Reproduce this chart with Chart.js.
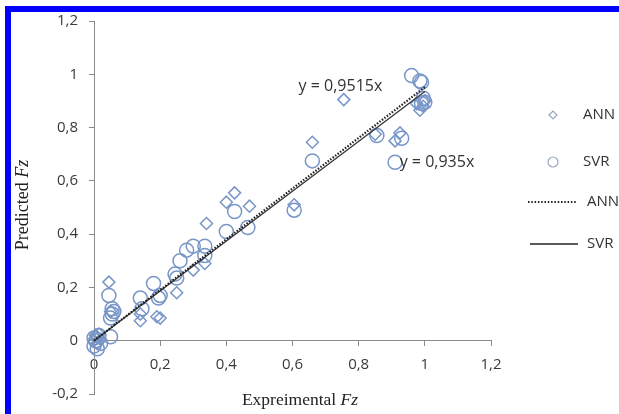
<!DOCTYPE html>
<html lang="en">
<head>
  <meta charset="UTF-8">
  <title>Predicted vs Expreimental Fz</title>
  <script src="https://cdn.jsdelivr.net/npm/chart.js"></script>
  <style>
    html, body { margin: 0; padding: 0; background: #fff; }
    #wrap { position: relative; width: 619px; height: 414px; }
  </style>
</head>
<body>
  <div id="wrap"><canvas id="fzChart" width="619" height="414"></canvas></div>

  <script>
    // ANN predictions (diamonds)
    const annX = [0.0, 0.005, 0.01, 0.015, 0.02, 0.01, 0.045, 0.05, 0.14, 0.14, 0.19, 0.2,
                  0.25, 0.3, 0.335, 0.34, 0.40, 0.425, 0.47, 0.605, 0.66, 0.755,
                  0.85, 0.91, 0.925, 0.975, 0.985, 0.995, 1.0];
    const annY = [0.0, 0.02, 0.01, 0.025, 0.005, -0.01, 0.22, 0.11, 0.1, 0.075, 0.09, 0.085,
                  0.18, 0.265, 0.29, 0.44, 0.52, 0.555, 0.505, 0.51, 0.745, 0.905,
                  0.775, 0.75, 0.78, 0.89, 0.865, 0.88, 0.9];

    // SVR predictions (circles)
    const svrX = [0.0, 0.01, 0.02, 0.0, 0.015, 0.005, 0.045, 0.055, 0.055, 0.05, 0.06, 0.05,
                  0.14, 0.145, 0.18, 0.195, 0.2, 0.25, 0.245, 0.26, 0.28, 0.3, 0.335, 0.335,
                  0.4, 0.425, 0.465, 0.605, 0.66, 0.855, 0.91, 0.93,
                  0.96, 0.985, 0.99, 0.99, 1.0, 0.995];
    const svrY = [-0.02, -0.03, -0.01, 0.01, 0.02, 0.0, 0.17, 0.12, 0.1, 0.085, 0.11, 0.015,
                  0.16, 0.12, 0.215, 0.16, 0.17, 0.235, 0.25, 0.3, 0.34, 0.355, 0.355, 0.32,
                  0.41, 0.485, 0.425, 0.49, 0.675, 0.77, 0.67, 0.76,
                  0.995, 0.975, 0.97, 0.89, 0.895, 0.91];

    // linear trend lines through origin
    const trendX = [0, 1];
    const annTrendY = [0, 0.9515];
    const svrTrendY = [0, 0.935];
    const annEq = 'y = 0,9515x';
    const svrEq = 'y = 0,935x';

    const xTicks = [0, 0.2, 0.4, 0.6, 0.8, 1, 1.2];
    const yTicks = [-0.2, 0, 0.2, 0.4, 0.6, 0.8, 1, 1.2];

    const markColor = '#7896c8';
    const tickFont = { family: 'Open Sans', size: 15 };
    const tickColor = '#3a3a3a';
    const axisColor = '#8a8a8a';

    const pts = (xs, ys) => xs.map((x, i) => ({ x, y: ys[i] }));
    const fmt = v => String(v).replace('.', ',');

    function drawTitle(ctx, parts, cx, cy, rot) {
      ctx.save();
      ctx.translate(cx, cy);
      ctx.rotate(rot);
      let w = 0;
      parts.forEach(p => { ctx.font = p.font; w += ctx.measureText(p.text).width; });
      let x = -w / 2;
      ctx.fillStyle = '#222';
      ctx.textBaseline = 'middle';
      ctx.textAlign = 'left';
      parts.forEach(p => { ctx.font = p.font; ctx.fillText(p.text, x, 0); x += ctx.measureText(p.text).width; });
      ctx.restore();
    }

    const decor = {
      id: 'decor',
      afterDraw(chart) {
        const ctx = chart.ctx;
        const xs = chart.scales.x, ys = chart.scales.y;
        ctx.save();
        // blue frame (top and left)
        ctx.fillStyle = '#0000ff';
        ctx.fillRect(5, 6, 614, 6);
        ctx.fillRect(5, 6, 6, 408);

        // axis titles
        drawTitle(ctx, [
          { text: 'Predicted ', font: '18px "Liberation Serif"' },
          { text: 'Fz', font: 'italic 18px "Liberation Serif"' }
        ], 23, 205, -Math.PI / 2);
        drawTitle(ctx, [
          { text: 'Expreimental ', font: '17.5px "Liberation Serif"' },
          { text: 'Fz', font: 'italic 17.5px "Liberation Serif"' }
        ], 300, 400, 0);

        // trend equations
        ctx.font = '16px "Open Sans"';
        ctx.fillStyle = '#333';
        ctx.textBaseline = 'middle';
        ctx.textAlign = 'center';
        ctx.fillText(annEq, xs.getPixelForValue(0.745), ys.getPixelForValue(0.955));
        ctx.textAlign = 'left';
        ctx.fillText(svrEq, xs.getPixelForValue(0.924), ys.getPixelForValue(0.67));

        // legend
        ctx.strokeStyle = '#9aa6c4';
        ctx.lineWidth = 1.2;
        ctx.beginPath();
        ctx.moveTo(553 - 4, 115); ctx.lineTo(553, 111); ctx.lineTo(553 + 4, 115); ctx.lineTo(553, 119); ctx.closePath();
        ctx.stroke();
        ctx.beginPath();
        ctx.arc(553, 162, 5, 0, Math.PI * 2);
        ctx.stroke();

        ctx.strokeStyle = '#222';
        ctx.lineWidth = 2;
        ctx.setLineDash([1.5, 1.8]);
        ctx.beginPath(); ctx.moveTo(528, 202); ctx.lineTo(577, 202); ctx.stroke();
        ctx.setLineDash([]);
        ctx.lineWidth = 1.3;
        ctx.beginPath(); ctx.moveTo(530, 244); ctx.lineTo(578, 244); ctx.stroke();

        ctx.font = '15px "Open Sans"';
        ctx.fillStyle = '#333';
        ctx.textAlign = 'left';
        ctx.fillText('ANN', 583, 115);
        ctx.fillText('SVR', 583, 162);
        ctx.fillText('ANN', 587, 202);
        ctx.fillText('SVR', 587, 244);
        ctx.restore();
      }
    };

    new Chart(document.getElementById('fzChart'), {
      type: 'scatter',
      data: {
        datasets: [
          { label: 'ANN', data: pts(trendX, annTrendY), showLine: true, pointRadius: 0,
            borderColor: '#1e1e1e', borderWidth: 2.2, borderDash: [1.5, 1.6], order: 0, clip: false },
          { label: 'SVR', data: pts(trendX, svrTrendY), showLine: true, pointRadius: 0,
            borderColor: '#333', borderWidth: 1.3, order: 0, clip: false },
          { label: 'ANN', data: pts(annX, annY), pointStyle: 'rectRot', pointRadius: 6,
            borderColor: markColor, backgroundColor: 'rgba(0,0,0,0)', borderWidth: 1.5, order: 1, clip: false },
          { label: 'SVR', data: pts(svrX, svrY), pointStyle: 'circle', pointRadius: 7,
            borderColor: markColor, backgroundColor: 'rgba(0,0,0,0)', borderWidth: 1.5, order: 2, clip: false }
        ]
      },
      options: {
        responsive: false,
        animation: false,
        devicePixelRatio: 1,
        layout: { padding: { left: 0, top: 21, right: 128, bottom: 19 } },
        plugins: { legend: { display: false }, tooltip: { enabled: false } },
        scales: {
          x: {
            type: 'linear',
            position: { y: 0 },
            min: 0, max: 1.2,
            afterBuildTicks: s => { s.ticks = xTicks.map(v => ({ value: v })); },
            ticks: { callback: v => fmt(v), font: tickFont, color: tickColor, padding: 10, maxRotation: 0 },
            grid: { drawOnChartArea: false, drawTicks: true, tickLength: 5, color: axisColor },
            border: { display: true, color: axisColor }
          },
          y: {
            type: 'linear',
            position: 'left',
            min: -0.2, max: 1.2,
            afterFit: s => { s.width = 94; },
            afterBuildTicks: s => { s.ticks = yTicks.map(v => ({ value: v })); },
            ticks: { callback: v => fmt(v), font: tickFont, color: tickColor, padding: 11 },
            grid: { drawOnChartArea: false, drawTicks: true, tickLength: 5, color: axisColor },
            border: { display: true, color: axisColor }
          }
        }
      },
      plugins: [decor]
    });
  </script>
</body>
</html>
